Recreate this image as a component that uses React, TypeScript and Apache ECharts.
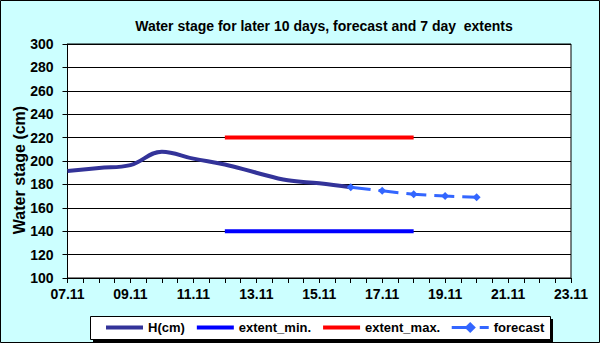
import React, { useEffect, useRef } from "react";
import * as echarts from "echarts";

// Date labels of the x axis (one per day)
const dates = [
  "07.11", "08.11", "09.11", "10.11", "11.11", "12.11", "13.11", "14.11", "15.11",
  "16.11", "17.11", "18.11", "19.11", "20.11", "21.11", "22.11", "23.11",
];

// Observed water stage H(cm)
const hDates = ["07.11", "08.11", "09.11", "10.11", "11.11", "12.11", "13.11", "14.11", "15.11", "16.11"];
const hValues = [191.5, 194, 196.5, 208, 202, 197, 190, 183.5, 181, 177.5];

// Forecast
const forecastDates = ["16.11", "17.11", "18.11", "19.11", "20.11"];
const forecastValues = [177.5, 174.5, 171.5, 170, 169];

// 7 day extents
const extentDates = ["12.11", "18.11"];
const extentMinValues = [140, 140];
const extentMaxValues = [220, 220];

const yTicks = { min: 100, max: 300, step: 20 };

const FONT = "Arial, 'Liberation Sans', sans-serif";

const toPoints = (ds: string[], vs: number[]) => ds.map((d, i) => [dates.indexOf(d), vs[i]]);

const boldText = (size: number) => ({
  fontSize: size,
  fontWeight: "bold" as const,
  color: "#000",
  fontFamily: FONT,
});

export default function App() {
  const ref = useRef<HTMLDivElement>(null);

  useEffect(() => {
    document.body.style.margin = "0";
    if (!ref.current) return;
    const chart = echarts.init(ref.current, undefined, { renderer: "svg" });
    chart.setOption({
      animation: false,
      backgroundColor: "#ccffff",
      textStyle: { fontFamily: FONT },
      title: {
        text: "Water stage for later 10 days, forecast and 7 day  extents",
        left: 319,
        textAlign: "center",
        top: 14,
        textStyle: boldText(14),
      },
      graphic: [
        {
          type: "rect",
          z: -10,
          shape: { x: 0.5, y: 0.5, width: 599, height: 342 },
          style: { fill: "none", stroke: "#000", lineWidth: 1 },
        },
        {
          type: "rect",
          z: -5,
          shape: { x: 93, y: 319, width: 460, height: 23 },
          style: { fill: "#000" },
        },
        {
          type: "rect",
          z: -4,
          shape: { x: 90.5, y: 316.5, width: 460, height: 23 },
          style: { fill: "#fff", stroke: "#000", lineWidth: 1 },
        },
      ],
      grid: {
        left: 67.5,
        right: 29,
        top: 44,
        bottom: 65,
        containLabel: false,
        outerBoundsMode: "none",
        show: true,
        backgroundColor: "#fff",
        borderColor: "#000",
        borderWidth: 1,
      },
      legend: {
        left: 90,
        top: 317,
        padding: [4, 2, 4, 14],
        itemWidth: 37,
        itemHeight: 14,
        itemGap: 10,
        textStyle: boldText(13),
        data: [
          { name: "H(cm)", itemStyle: { opacity: 0 }, lineStyle: { width: 4 } },
          { name: "extent_min.", itemStyle: { opacity: 0 }, lineStyle: { width: 4 } },
          { name: "extent_max.", itemStyle: { opacity: 0 }, lineStyle: { width: 4 } },
          { name: "forecast", lineStyle: { width: 3 } },
        ],
      },
      xAxis: {
        type: "value",
        min: 0,
        max: dates.length - 1,
        interval: 2,
        axisLine: { show: true, lineStyle: { color: "#000", width: 1 } },
        axisTick: { show: true, length: 5, lineStyle: { color: "#000" } },
        minorTick: { show: true, splitNumber: 4, length: 5, lineStyle: { color: "#000" } },
        splitLine: { show: false },
        axisLabel: {
          margin: 9,
          ...boldText(14),
          formatter: (v: number) => dates[Math.round(v)] ?? "",
        },
      },
      yAxis: {
        type: "value",
        min: yTicks.min,
        max: yTicks.max,
        interval: yTicks.step,
        name: "Water stage (cm)",
        nameLocation: "middle",
        nameGap: 40,
        nameMoveOverlap: false,
        nameTextStyle: { ...boldText(16), padding: [0, 18, 0, 0] },
        axisLine: { show: true, lineStyle: { color: "#000", width: 1 } },
        axisTick: { show: true, length: 5, lineStyle: { color: "#000" } },
        splitLine: { show: true, lineStyle: { color: "#000", width: 1 } },
        axisLabel: {
          margin: 14,
          ...boldText(14),
        },
      },
      series: [
        {
          name: "H(cm)",
          type: "line",
          smooth: 0.4,
          symbol: "none",
          data: toPoints(hDates, hValues),
          lineStyle: { color: "#333399", width: 4 },
          itemStyle: { color: "#333399" },
          z: 3,
        },
        {
          name: "extent_min.",
          type: "line",
          symbol: "none",
          data: toPoints(extentDates, extentMinValues),
          lineStyle: { color: "#0000ff", width: 4 },
          itemStyle: { color: "#0000ff" },
        },
        {
          name: "extent_max.",
          type: "line",
          symbol: "none",
          data: toPoints(extentDates, extentMaxValues),
          lineStyle: { color: "#ff0000", width: 4 },
          itemStyle: { color: "#ff0000" },
        },
        {
          name: "forecast",
          type: "line",
          symbol: "diamond",
          symbolSize: 8,
          data: toPoints(forecastDates, forecastValues),
          lineStyle: { color: "#3366ff", width: 3, type: [20, 8] },
          itemStyle: { color: "#3366ff" },
          z: 4,
        },
      ],
    });
    return () => chart.dispose();
  }, []);

  return <div ref={ref} style={{ width: 600, height: 343 }} />;
}
